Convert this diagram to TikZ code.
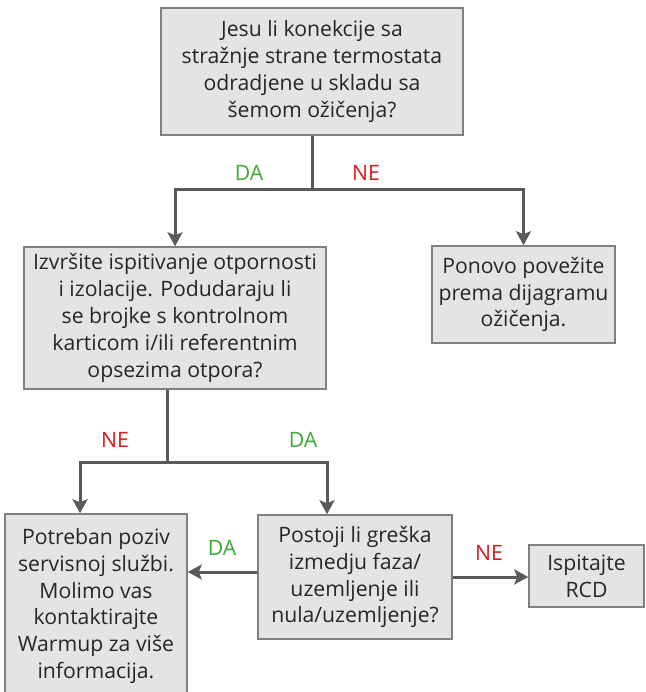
\documentclass[tikz,border=0pt]{standalone}
\usepackage{fontspec}
\setmainfont{Open Sans}
\usetikzlibrary{arrows.meta, positioning, calc}
\definecolor{boxfill}{HTML}{E4E4E4}
\definecolor{boxline}{HTML}{808080}
\definecolor{flowline}{HTML}{5A5A5A}
\definecolor{yesgreen}{HTML}{3AAA35}
\definecolor{nored}{HTML}{D7191C}
\tikzset{
    box/.style={rectangle, draw=boxline, fill=boxfill, line width=1.5pt, inner sep=0pt,
                align=center, text=black!85, font=\fontsize{21.2}{26.9}\selectfont},
    line/.style={draw=flowline, line width=3pt},
    flow/.style={line, -{Stealth[length=14pt, width=15pt, inset=3pt]}},
    yes/.style={text=yesgreen, font=\fontsize{21.2}{24}\selectfont},
    no/.style={text=nored, font=\fontsize{21.2}{24}\selectfont},
}
\begin{document}
\begin{tikzpicture}[x=1pt, y=-1pt]

    \useasboundingbox (0,0) rectangle (645,692);

    % ── Boxes ──────────────────────────────────────────────────────
    \node[box, minimum width=302, minimum height=127] (q1) at (312, 71.5)
        {Jesu li konekcije sa\\stražnje strane termostata\\odradjene u skladu sa\\šemom ožičenja?};
    \node[box, minimum width=302, minimum height=142] (q2) at (175, 318)
        {Izvršite ispitivanje otpornosti\\i izolacije. Podudaraju li\\se brojke s kontrolnom\\karticom i/ili referentnim\\opsezima otpora?};
    \node[box, minimum width=183, minimum height=97] (rewire) at (523.5, 294.5)
        {Ponovo povežite\\prema dijagramu\\ožičenja.};
    \node[box, minimum width=182, minimum height=184] (service) at (96, 606)
        {Potreban poziv\\servisnoj službi.\\Molimo vas\\kontaktirajte\\Warmup za više\\informacija.};
    \node[box, minimum width=194, minimum height=124] (q3) at (355, 577)
        {Postoji li greška\\izmedju faza/\\uzemljenje ili\\nula/uzemljenje?};
    \node[box, minimum width=115, minimum height=62] (rcd) at (586.5, 576)
        {Ispitajte\\RCD};

    % ── Junctions ──────────────────────────────────────────────────
    \coordinate (j1) at (312, 190);
    \coordinate (j2) at (167, 462);

    % ── Flows ──────────────────────────────────────────────────────
    \draw[line] (q1.south) -- (j1);
    \draw[flow] (j1) -| (q2.north);
    \draw[flow] (j1) -| (rewire.north);
    \node[yes] (da1) at (249, 173) {DA};
    \node[no]  (ne1) at (366, 173) {NE};

    \draw[line] (q2.south -| j2) -- (j2);
    \draw[flow] (j2) -| ([xshift=-16pt]service.north);
    \draw[flow] (j2) -| ([xshift=-28pt]q3.north);
    \node[no]  (ne2) at (115, 440) {NE};
    \node[yes] (da2) at (303, 440) {DA};

    \draw[flow] ([yshift=5pt]q3.west) -- ([yshift=5pt]q3.west -| service.east);
    \node[yes] (da3) at (222, 548) {DA};

    \draw[flow] (q3.east) -- (q3.east -| rcd.west);
    \node[no]  (ne3) at (489, 553) {NE};

\end{tikzpicture}
\end{document}
